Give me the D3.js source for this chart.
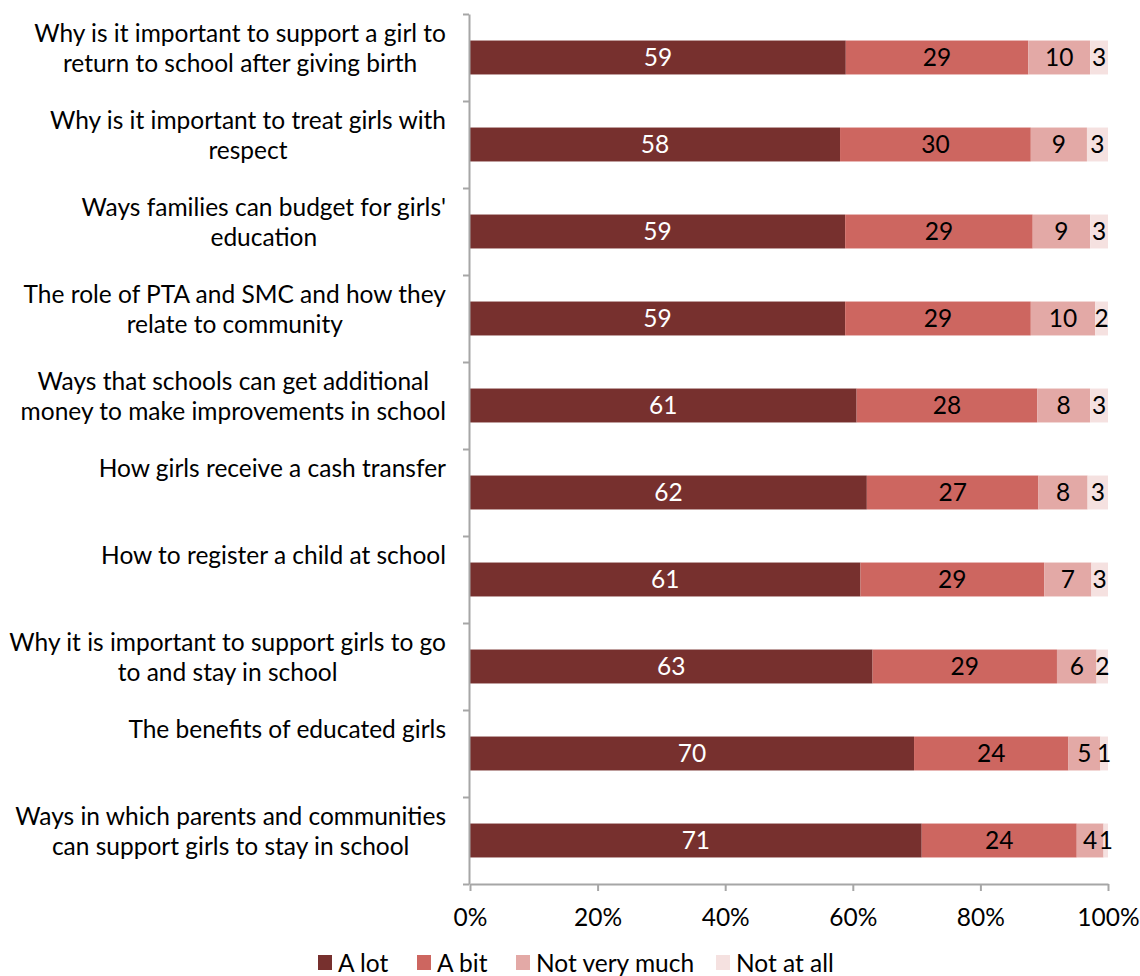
<!DOCTYPE html>
<html lang="en">
<head>
<meta charset="UTF-8">
<script src="https://cdn.jsdelivr.net/npm/d3@7"></script>
<title>Stacked bars</title>
<style>
  body { margin: 0; background: #fff; font-family: Lato, "Open Sans", sans-serif; }
  text { font-family: Lato, "Open Sans", sans-serif; font-size: 24.5px; }
  .axis path, .axis line { stroke: #a6a6a6; stroke-width: 2px; }
</style>
</head>
<body>
<svg id="chart" width="1140" height="976"></svg>
<script>
// category labels, one line per array entry
const categories = [
  ["Why is it important to support a girl to", "return to school after giving birth"],
  ["Why is it important to treat girls with", "respect"],
  ["Ways families can budget for girls'", "education"],
  ["The role of PTA and SMC and how they", "relate to community"],
  ["Ways that schools can get additional", "money to make improvements in school"],
  ["How girls receive a cash transfer"],
  ["How to register a child at school"],
  ["Why it is important to support girls to go", "to and stay in school"],
  ["The benefits of educated girls"],
  ["Ways in which parents and communities", "can support girls to stay in school"]
];
const seriesNames = ["A lot", "A bit", "Not very much", "Not at all"];
const aLot        = [58.9, 58.0, 58.8, 58.8, 60.6, 62.2, 61.2, 63.1, 69.6, 70.8];
const aBit        = [28.6, 29.9, 29.4, 29.1, 28.3, 26.9, 28.8, 28.9, 24.2, 24.3];
const notVeryMuch = [9.7, 8.8, 9.0, 10.1, 8.3, 7.7, 7.4, 6.2, 5.0, 4.2];
const notAtAll    = [2.8, 3.3, 2.8, 2.0, 2.8, 3.2, 2.6, 1.8, 1.2, 0.7];
const xTicks = [0, 20, 40, 60, 80, 100];
const colors = ["#77302e", "#cd6660", "#e3a9a6", "#f5e1e0"];

const rows = categories.map((c, i) => ({
  key: i,
  "A lot": aLot[i], "A bit": aBit[i], "Not very much": notVeryMuch[i], "Not at all": notAtAll[i]
}));

const svg = d3.select("#chart");
const x = d3.scaleLinear().domain([0, 100]).range([470, 1108]);
const y = d3.scaleBand().domain(d3.range(categories.length)).range([14, 884])
  .paddingInner(0.61).paddingOuter(0.305);
const yLin = d3.scaleLinear().domain([0, categories.length]).range([14, 884]);
const color = d3.scaleOrdinal().domain(seriesNames).range(colors);

const stacked = d3.stack().keys(seriesNames)(rows);

// bars
const layer = svg.selectAll("g.layer").data(stacked).enter().append("g")
  .attr("class", "layer").attr("fill", d => color(d.key));
layer.selectAll("rect").data(d => d).enter().append("rect")
  .attr("x", d => x(d[0]))
  .attr("y", d => y(d.data.key))
  .attr("width", d => x(d[1]) - x(d[0]))
  .attr("height", y.bandwidth());

// value labels
layer.each(function (s, si) {
  d3.select(this).selectAll("text").data(s).enter().append("text")
    .attr("x", d => (x(d[0]) + x(d[1])) / 2)
    .attr("y", d => y(d.data.key) + y.bandwidth() / 2)
    .attr("dy", "0.36em")
    .attr("text-anchor", "middle")
    .attr("fill", si === 0 ? "#fff" : "#000")
    .text(d => Math.round(d[1] - d[0]));
});

// axes
svg.append("g").attr("class", "axis")
  .attr("transform", "translate(0,884)")
  .call(d3.axisBottom(x).tickValues(xTicks).tickFormat(d => d + "%").tickSize(7).tickSizeOuter(0).tickPadding(18))
  .call(g => g.selectAll("text").attr("fill", "#000").style("font-size", "24.5px").style("font-family", "Lato, sans-serif"));

svg.append("g").attr("class", "axis")
  .attr("transform", "translate(469,0)")
  .call(d3.axisLeft(yLin).tickValues(d3.range(categories.length + 1)).tickFormat("").tickSize(6).tickSizeOuter(0));

// category labels: block right-aligned, lines centered within block
const labelRight = 446;
categories.forEach((lines, i) => {
  const g = svg.append("g");
  const cy = y(i) + y.bandwidth() / 2 - 24;
  const texts = lines.map((ln, j) => g.append("text")
    .attr("y", cy + j * 30).attr("dy", "0.36em")
    .attr("text-anchor", "middle").attr("fill", "#000").text(ln));
  const w = d3.max(texts, t => t.node().getComputedTextLength());
  texts.forEach(t => t.attr("x", labelRight - w / 2));
});

// legend
const legendX = [318, 417, 516, 716];
const legend = svg.selectAll("g.legend").data(seriesNames).enter().append("g")
  .attr("class", "legend")
  .attr("transform", (d, i) => `translate(${legendX[i]},955)`);
legend.append("rect").attr("width", 14).attr("height", 15).attr("fill", d => color(d));
legend.append("text").attr("x", 20).attr("y", 8).attr("dy", "0.36em").attr("fill", "#000").text(d => d);
</script>
</body>
</html>
